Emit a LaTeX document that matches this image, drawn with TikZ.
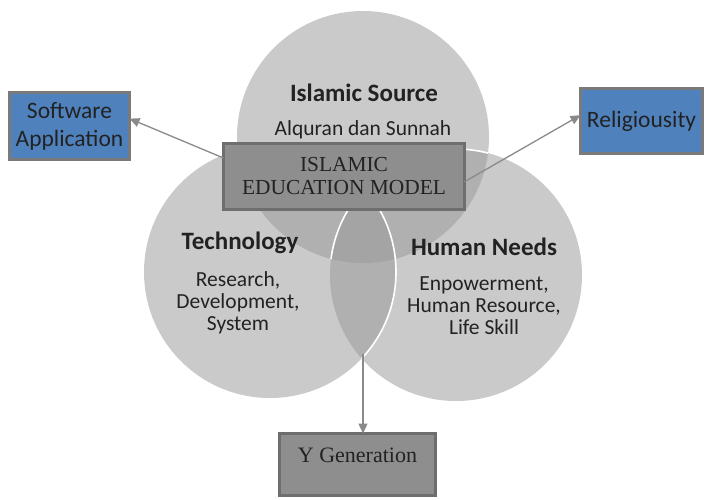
\documentclass[tikz,border=0pt]{standalone}
\usepackage{fontspec}
\setmainfont{Liberation Serif}
\newfontfamily\cfont{Carlito}
\usetikzlibrary{arrows.meta,calc}

\definecolor{lay1}{HTML}{CACACA}
\definecolor{lay2}{HTML}{B0B0B0}
\definecolor{lay3}{HTML}{A4A4A4}
\definecolor{bluebox}{HTML}{4F81BD}
\definecolor{boxedge}{HTML}{7A7A7A}
\definecolor{greybox}{HTML}{8E8E8E}
\definecolor{greyedge}{HTML}{6E6E6E}
\definecolor{inktext}{HTML}{222222}
\definecolor{linkgrey}{HTML}{8A8A8A}

\tikzset{
  bluenode/.style={draw=boxedge, fill=bluebox, line width=3pt, outer sep=0pt,
    text=inktext, align=center, font=\cfont\fontsize{23.5}{28}\selectfont},
  greynode/.style={draw=greyedge, fill=greybox, line width=3pt, outer sep=0pt,
    text=inktext, align=center, font=\fontsize{21.4}{23}\selectfont},
  headtext/.style={text=inktext, font=\cfont\bfseries\fontsize{25}{28}\selectfont},
  bodytext/.style={text=inktext, align=center, font=\cfont\fontsize{21.5}{22}\selectfont},
  link/.style={draw=linkgrey, line width=1.3pt, -{Triangle[length=10pt,width=9pt]}},
  rim/.style={draw=white, line width=1.6pt}
}

\begin{document}
\begin{tikzpicture}[x=1pt,y=-1pt]
\useasboundingbox (0,0) rectangle (709,499);

% circle centres
\coordinate (ctop) at (363,137);
\coordinate (cleft) at (270,272);
\coordinate (cright) at (456,275);
\def\rad{126pt}

% single layers
\fill[lay1] (ctop) circle[radius=\rad];
\fill[lay1] (cleft) circle[radius=\rad];
\fill[lay1] (cright) circle[radius=\rad];
% pairwise overlaps
\begin{scope}
  \clip (ctop) circle[radius=\rad];
  \fill[lay2] (cleft) circle[radius=\rad];
  \fill[lay2] (cright) circle[radius=\rad];
\end{scope}
\begin{scope}
  \clip (cleft) circle[radius=\rad];
  \fill[lay2] (cright) circle[radius=\rad];
  \clip (cright) circle[radius=\rad];
  \fill[lay3] (ctop) circle[radius=\rad];
\end{scope}
% white rims where one circle lies over another
\begin{scope}
  \clip (ctop) circle[radius=\rad];
  \draw[rim] (cright) circle[radius=\rad];
\end{scope}
\begin{scope}
  \clip (cright) circle[radius=\rad];
  \draw[rim] (cleft) circle[radius=\rad];
\end{scope}

% lower meeting point of the left and right circles
\coordinate (lensbot) at (363,354);

% circle texts
\node[headtext] (srchead) at (364,93) {Islamic Source};
\node[bodytext] (srcbody) at (363,130) {Alquran dan Sunnah};
\node[headtext] (techhead) at (240,243) {Technology};
\node[bodytext] (techbody) at (238,303) {Research,\\Development,\\System};
\node[headtext] (humhead) at (484,247) {Human Needs};
\node[bodytext] (humbody) at (484,306) {Enpowerment,\\Human Resource,\\Life Skill};

% boxes
\node[greynode, minimum width=241pt, minimum height=66pt] (iem) at (344,176.5)
  {ISLAMIC\\EDUCATION MODEL};
\node[bluenode, minimum width=120pt, minimum height=67pt] (sw) at (69.5,126)
  {Software\\Application};
\node[bluenode, minimum width=122pt, minimum height=65pt] (rel) at (641.5,121)
  {Religiousity};
\node[greynode, font=\fontsize{22}{26}\selectfont, minimum width=156pt, minimum height=62pt,
  text height=16pt, text depth=20pt] (ygen) at (357.5,464.5) {Y Generation};

% connectors
\draw[link] ($(iem.north west)!0.22!(iem.south west)$) -- ($(sw.north east)!0.39!(sw.south east)$);
\draw[link] ($(iem.north east)!0.58!(iem.south east)$) -- ($(rel.north west)!0.41!(rel.south west)$);
\draw[link] (lensbot) -- (lensbot |- ygen.north);
\end{tikzpicture}
\end{document}
